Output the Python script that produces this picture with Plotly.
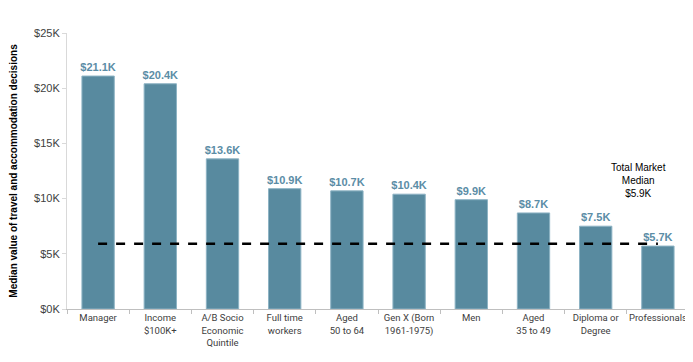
import plotly.graph_objects as go

categories = ["Manager", "Income<br>$100K+", "A/B Socio<br>Economic<br>Quintile", "Full time<br>workers",
              "Aged<br>50 to 64", "Gen X (Born<br>1961-1975)", "Men", "Aged<br>35 to 49",
              "Diploma or<br>Degree", "Professionals"]
values = [21.1, 20.4, 13.6, 10.9, 10.7, 10.4, 9.9, 8.7, 7.5, 5.7]
labels = ["$21.1K", "$20.4K", "$13.6K", "$10.9K", "$10.7K", "$10.4K", "$9.9K", "$8.7K", "$7.5K", "$5.7K"]
market_median = 5.9
tick_vals = [0, 5, 10, 15, 20, 25]
tick_text = ["$0K", "$5K", "$10K", "$15K", "$20K", "$25K"]

FONT = "Liberation Sans, Arial, sans-serif"
TICKFONT = "Roboto, Liberation Sans, sans-serif"

fig = go.Figure()
fig.add_trace(go.Bar(
    x=categories, y=values, text=labels, textposition="outside", constraintext="none",
    marker=dict(color="#588A9F", line=dict(color="#8DB3C4", width=1)),
    textfont=dict(color="#5B8DA6", size=11, family=FONT, weight="bold"),
    cliponaxis=False, showlegend=False,
))
fig.add_trace(go.Scatter(
    x=categories, y=[market_median] * len(categories), mode="lines",
    line=dict(color="black", width=2.5, dash="dash"), showlegend=False, hoverinfo="skip",
))
fig.add_annotation(
    x=categories[-1], y=market_median, xref="x", yref="y",
    text="Total Market<br>Median<br>$5.9K", showarrow=False,
    xshift=-19, yshift=63, font=dict(size=10, color="black", family=FONT),
)

# page body has an 8px margin; keep the page free of scrollbars
fig.update_layout(
    width=685, height=346, margin=dict(l=59, r=4, t=25, b=45),
    plot_bgcolor="white", paper_bgcolor="white", bargap=0.48,
    font=dict(family=FONT, size=10, color="#404040"),
)
fig.update_xaxes(
    range=[-0.5, 9.5], showline=True, linecolor="#BFBFBF", linewidth=1,
    ticks="outside", tickson="boundaries", ticklen=4, tickcolor="#BFBFBF",
    tickangle=0, automargin=False,
    tickfont=dict(size=9.5, color="#404040", family=TICKFONT), showgrid=False,
)
fig.update_yaxes(
    range=[0, 25], tickvals=tick_vals, ticktext=tick_text, showgrid=False,
    showline=True, linecolor="#D9D9D9", linewidth=1, ticks="outside", ticklen=4,
    tickcolor="#D9D9D9", tickfont=dict(size=11, color="#404040"), zeroline=False,
    automargin=False,
    title=dict(text="<b>Median value of travel and accommodation decisions</b>",
               font=dict(size=10, color="black"), standoff=20),
)
fig.write_html("out.html")
